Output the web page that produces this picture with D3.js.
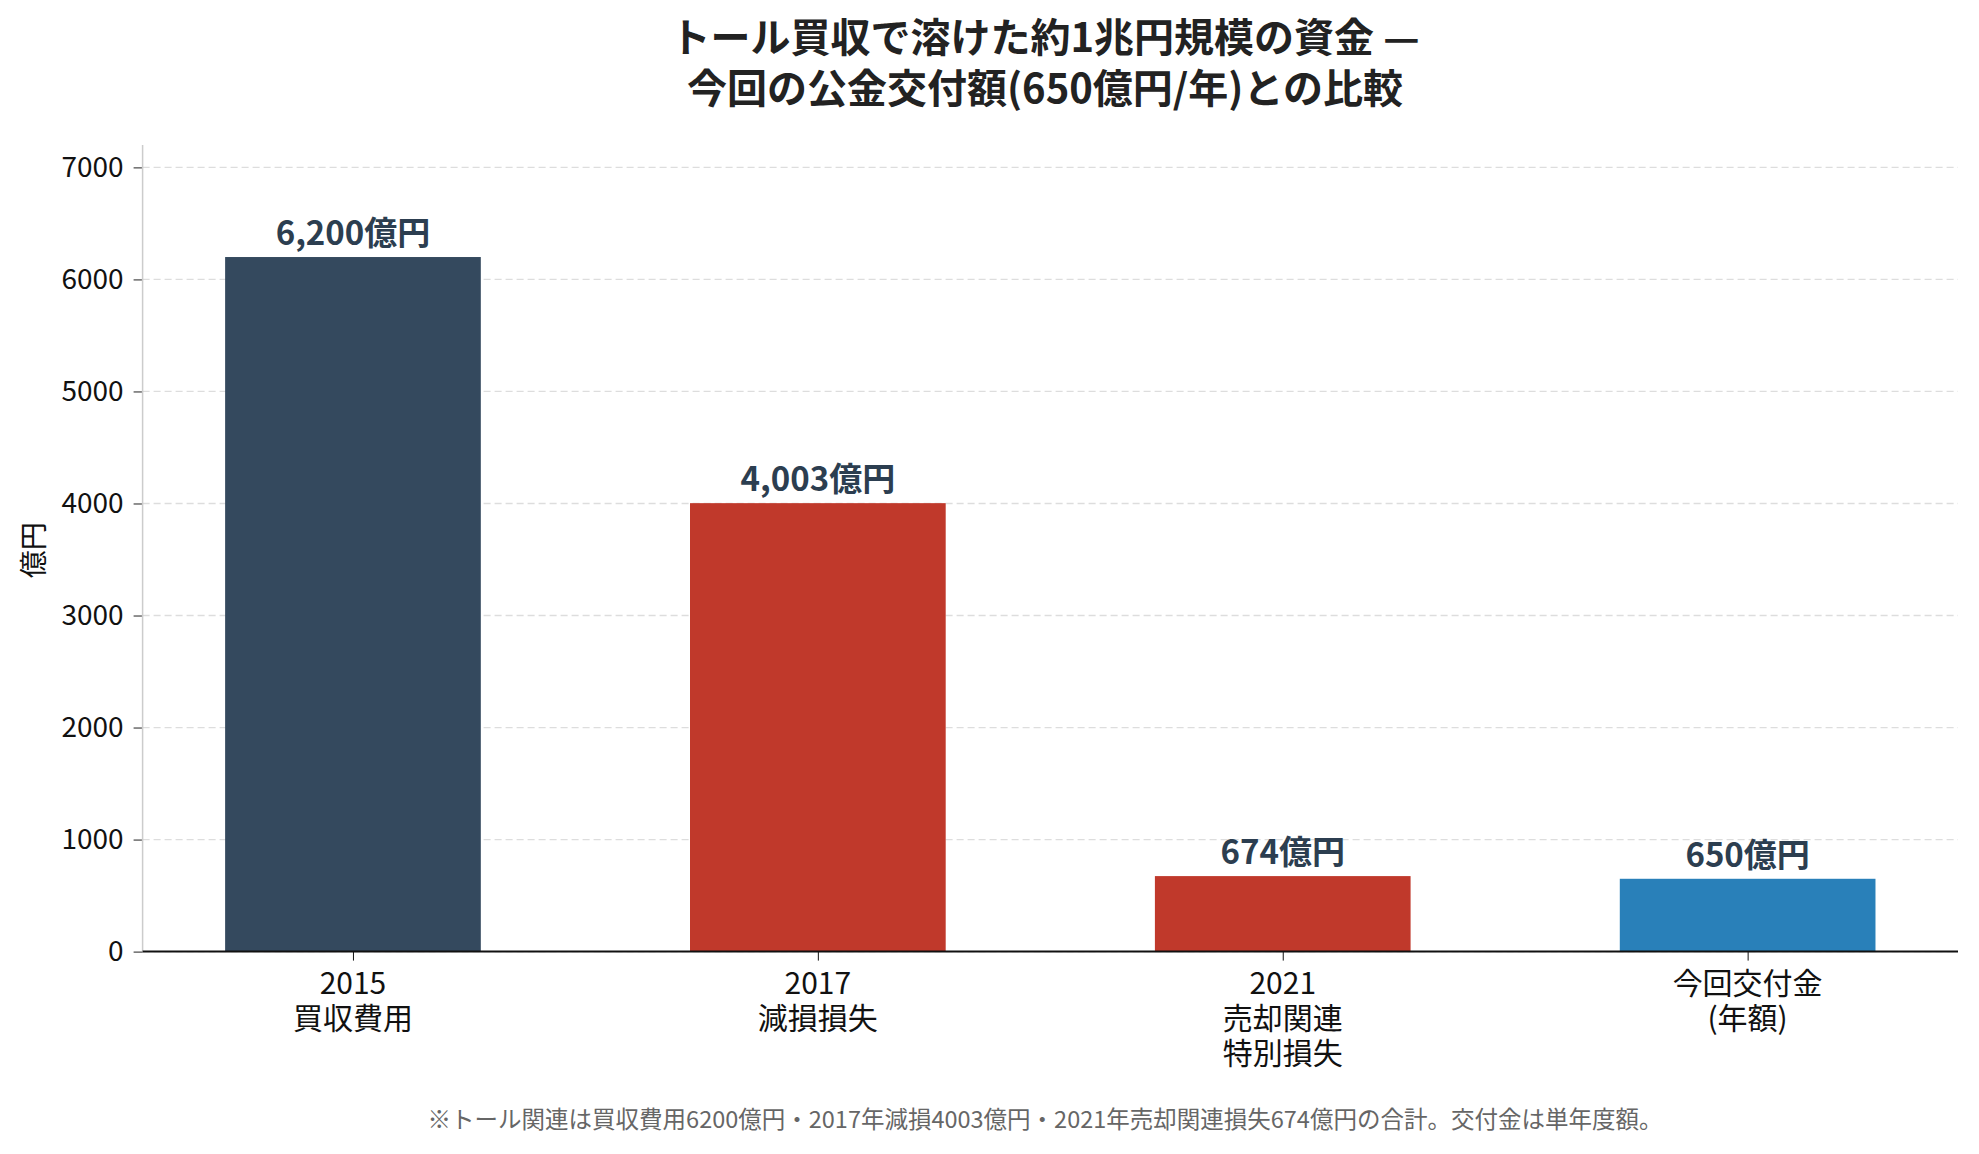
<!DOCTYPE html>
<html>
<head>
<meta charset="utf-8">
<script src="https://cdn.jsdelivr.net/npm/d3@7"></script>
<style>
  body { margin: 0; background: #fff; }
  svg { display: block; font-family: "Noto Sans CJK JP", "Noto Sans", sans-serif; }
</style>
</head>
<body>
<svg id="chart" width="1979" height="1154"></svg>
<script>
// Chart data.
const categories = [["2015", "買収費用"], ["2017", "減損損失"], ["2021", "売却関連", "特別損失"], ["今回交付金", "(年額)"]];
const values = [6200, 4003, 674, 650];
const valueLabels = ["6,200億円", "4,003億円", "674億円", "650億円"];
const barColors = ["#34495e", "#c0392b", "#c0392b", "#2980b9"];
const yTicks = [0, 1000, 2000, 3000, 4000, 5000, 6000, 7000];
const titleLines = ["トール買収で溶けた約1兆円規模の資金 —", "今回の公金交付額(650億円/年)との比較"];
const yLabel = "億円";
const footnote = "※トール関連は買収費用6200億円・2017年減損4003億円・2021年売却関連損失674億円の合計。交付金は単年度額。";

const svg = d3.select("#chart");

// Plot area.
const plotLeft = 142.6, plotRight = 1958, plotTop = 145, plotBottom = 951.6;
const barWidth = 0.55;

const x = d3.scaleLinear().domain([-0.4525, 3.4525]).range([plotLeft, plotRight]);
const y = d3.scaleLinear().domain([0, 7200]).range([plotBottom, plotTop]);

// Dashed grid.
svg.append("g")
    .selectAll("line")
    .data(yTicks)
    .join("line")
    .attr("x1", plotLeft).attr("x2", plotRight)
    .attr("y1", d => y(d)).attr("y2", d => y(d))
    .attr("stroke", "#dddddd")
    .attr("stroke-width", 1.3)
    .attr("stroke-dasharray", "7,4");

// Bars.
svg.append("g")
    .selectAll("rect")
    .data(values)
    .join("rect")
    .attr("x", (d, i) => x(i - barWidth / 2))
    .attr("width", (d, i) => x(i + barWidth / 2) - x(i - barWidth / 2))
    .attr("y", d => y(d))
    .attr("height", d => plotBottom - y(d))
    .attr("fill", (d, i) => barColors[i]);

// Value labels above the bars.
svg.append("g")
    .selectAll("text")
    .data(values)
    .join("text")
    .attr("x", (d, i) => x(i))
    .attr("y", d => y(d) - 12)
    .attr("text-anchor", "middle")
    .attr("font-size", 33)
    .attr("font-weight", "bold")
    .attr("fill", "#2c3e50")
    .text((d, i) => valueLabels[i]);

// Y axis.
const yAxis = svg.append("g")
    .attr("transform", `translate(${plotLeft},0)`)
    .call(d3.axisLeft(y).tickValues(yTicks).tickSize(9).tickPadding(10).tickFormat(d3.format("d")));
yAxis.select(".domain").remove();
yAxis.selectAll(".tick line").attr("stroke", "#222");
yAxis.selectAll("text").attr("font-size", 28).attr("fill", "#111").attr("font-family", "'Noto Sans CJK JP'");
svg.append("line")
    .attr("x1", plotLeft).attr("x2", plotLeft)
    .attr("y1", plotTop).attr("y2", plotBottom)
    .attr("stroke", "#cccccc").attr("stroke-width", 1.5);

// X axis.
const xAxis = svg.append("g")
    .attr("transform", `translate(0,${plotBottom})`)
    .call(d3.axisBottom(x).tickValues(d3.range(categories.length)).tickSize(9).tickFormat(""));
xAxis.select(".domain").remove();
xAxis.selectAll(".tick line").attr("stroke", "#111");
svg.append("line")
    .attr("x1", plotLeft).attr("x2", plotRight)
    .attr("y1", plotBottom).attr("y2", plotBottom)
    .attr("stroke", "#111").attr("stroke-width", 2);

const xLabels = svg.append("g")
    .selectAll("text")
    .data(categories)
    .join("text")
    .attr("text-anchor", "middle")
    .attr("font-size", 30)
    .attr("fill", "#111");
xLabels.selectAll("tspan")
    .data((d, i) => d.map(s => ({ s, i })))
    .join("tspan")
    .attr("x", d => x(d.i))
    .attr("y", (d, j) => 994 + j * 35)
    .text(d => d.s);

// Y label.
svg.append("text")
    .attr("transform", `translate(44,${(plotTop + plotBottom) / 2 + 2}) rotate(-90)`)
    .attr("text-anchor", "middle")
    .attr("font-size", 28)
    .attr("fill", "#111")
    .text(yLabel);

// Title.
svg.append("g")
    .selectAll("text")
    .data(titleLines)
    .join("text")
    .attr("x", 1045)
    .attr("y", (d, i) => 52 + i * 51)
    .attr("text-anchor", "middle")
    .attr("font-size", 40)
    .attr("font-weight", "bold")
    .attr("fill", "#222")
    .text(d => d);

// Footnote.
svg.append("text")
    .attr("x", 1045)
    .attr("y", 1128)
    .attr("text-anchor", "middle")
    .attr("font-size", 23.5)
    .attr("fill", "#666")
    .text(footnote);
</script>
</body>
</html>
